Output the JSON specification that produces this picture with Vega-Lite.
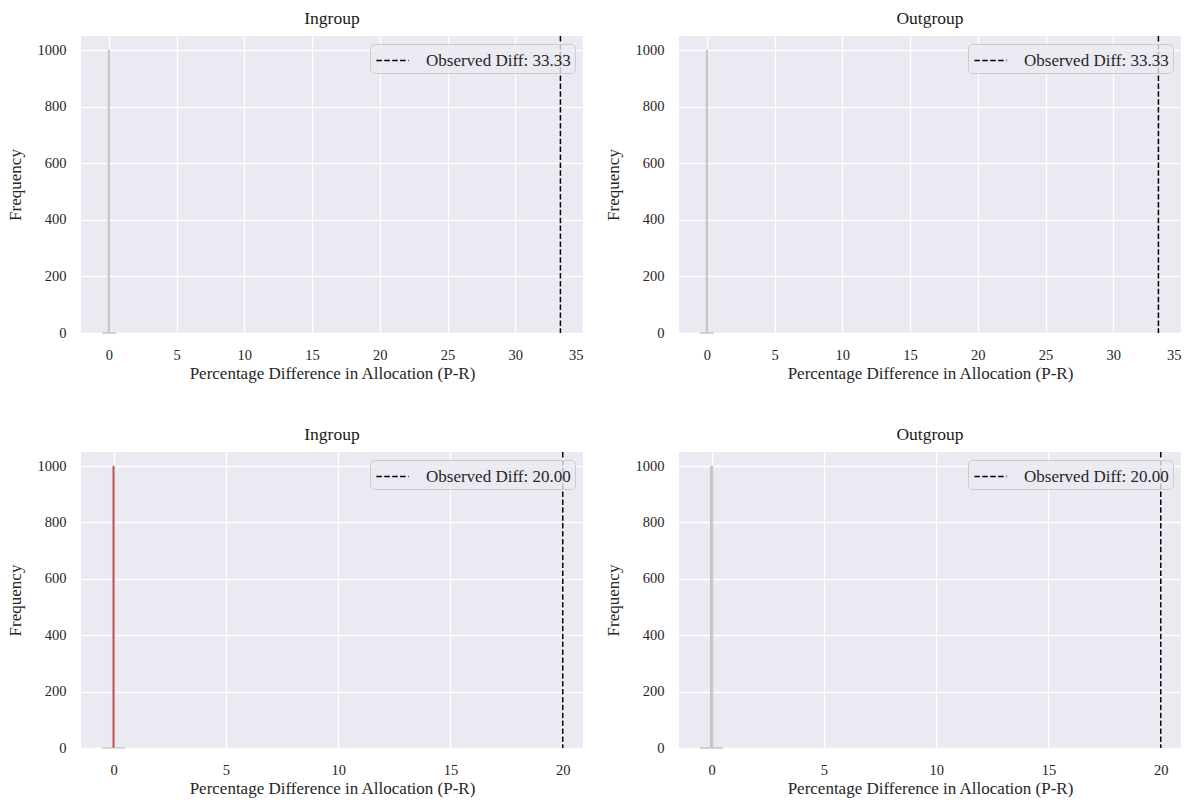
{
  "$schema": "https://vega.github.io/schema/vega-lite/v6.json",
  "background": "white",
  "padding": {"left": 6, "top": 9, "right": 5, "bottom": 5},
  "datasets": {
    "bars": [
      {"panel": "TL", "x0": -0.5, "x1": -0.05, "count": 0},
      {"panel": "TL", "x0": -0.05, "x1": 0.05, "count": 1000},
      {"panel": "TL", "x0": 0.05, "x1": 0.5, "count": 0},
      {"panel": "TR", "x0": -0.5, "x1": -0.05, "count": 0},
      {"panel": "TR", "x0": -0.05, "x1": 0.05, "count": 1000},
      {"panel": "TR", "x0": 0.05, "x1": 0.5, "count": 0},
      {"panel": "BL", "x0": -0.5, "x1": -0.05, "count": 0},
      {"panel": "BL", "x0": -0.05, "x1": 0.05, "count": 1000},
      {"panel": "BL", "x0": 0.05, "x1": 0.5, "count": 0},
      {"panel": "BR", "x0": -0.5, "x1": -0.05, "count": 0},
      {"panel": "BR", "x0": -0.05, "x1": 0.05, "count": 1000},
      {"panel": "BR", "x0": 0.05, "x1": 0.5, "count": 0}
    ],
    "obs": [
      {"panel": "TL", "diff": 33.333, "label": "Observed Diff: 33.33"},
      {"panel": "TR", "diff": 33.333, "label": "Observed Diff: 33.33"},
      {"panel": "BL", "diff": 20.0, "label": "Observed Diff: 20.00"},
      {"panel": "BR", "diff": 20.0, "label": "Observed Diff: 20.00"}
    ]
  },
  "columns": 2,
  "spacing": {"row": 43, "column": 21},
  "resolve": {"scale": {"color": "independent", "x": "independent", "y": "independent"}, "legend": {"color": "independent"}},
  "concat": [
    {
      "title": "Ingroup",
      "width": 502, "height": 297,
      "layer": [
        {
          "data": {"name": "bars"},
          "transform": [{"filter": "datum.panel == 'TL'"}],
          "mark": {"type": "bar", "fill": "#c6c6c6", "stroke": "#c4c4c4", "strokeWidth": 1},
          "encoding": {
            "x": {"field": "x0", "type": "quantitative", "scale": {"domain": [-2.06, 35], "nice": false, "zero": false}, "axis": {"values": [0, 5, 10, 15, 20, 25, 30, 35], "format": "d", "title": "Percentage Difference in Allocation (P-R)"}},
            "x2": {"field": "x1"},
            "y": {"field": "count", "type": "quantitative", "scale": {"domain": [0, 1050], "nice": false}, "axis": {"values": [0, 200, 400, 600, 800, 1000], "format": "d", "title": "Frequency"}},
            "y2": {"datum": 0}
          }
        },
        {
          "data": {"name": "obs"},
          "transform": [{"filter": "datum.panel == 'TL'"}],
          "mark": {"type": "rule", "strokeDash": [5.5, 2.4], "strokeWidth": 1.5},
          "encoding": {
            "x": {"field": "diff", "type": "quantitative"},
            "color": {"field": "label", "type": "nominal", "scale": {"range": ["black"]}, "legend": {"title": null}}
          }
        }
      ]
    },
    {
      "title": "Outgroup",
      "width": 502, "height": 297,
      "layer": [
        {
          "data": {"name": "bars"},
          "transform": [{"filter": "datum.panel == 'TR'"}],
          "mark": {"type": "bar", "fill": "#c6c6c6", "stroke": "#c4c4c4", "strokeWidth": 1},
          "encoding": {
            "x": {"field": "x0", "type": "quantitative", "scale": {"domain": [-2.06, 35], "nice": false, "zero": false}, "axis": {"values": [0, 5, 10, 15, 20, 25, 30, 35], "format": "d", "title": "Percentage Difference in Allocation (P-R)"}},
            "x2": {"field": "x1"},
            "y": {"field": "count", "type": "quantitative", "scale": {"domain": [0, 1050], "nice": false}, "axis": {"values": [0, 200, 400, 600, 800, 1000], "format": "d", "title": "Frequency"}},
            "y2": {"datum": 0}
          }
        },
        {
          "data": {"name": "obs"},
          "transform": [{"filter": "datum.panel == 'TR'"}],
          "mark": {"type": "rule", "strokeDash": [5.5, 2.4], "strokeWidth": 1.5},
          "encoding": {
            "x": {"field": "diff", "type": "quantitative"},
            "color": {"field": "label", "type": "nominal", "scale": {"range": ["black"]}, "legend": {"title": null}}
          }
        }
      ]
    },
    {
      "title": "Ingroup",
      "width": 502, "height": 296,
      "layer": [
        {
          "data": {"name": "bars"},
          "transform": [{"filter": "datum.panel == 'BL'"}],
          "mark": {"type": "bar", "fill": "#c44e52", "stroke": "#c9b0b0", "strokeWidth": 0.6},
          "encoding": {
            "x": {"field": "x0", "type": "quantitative", "scale": {"domain": [-1.45, 20.9], "nice": false, "zero": false}, "axis": {"values": [0, 5, 10, 15, 20], "format": "d", "title": "Percentage Difference in Allocation (P-R)"}},
            "x2": {"field": "x1"},
            "y": {"field": "count", "type": "quantitative", "scale": {"domain": [0, 1050], "nice": false}, "axis": {"values": [0, 200, 400, 600, 800, 1000], "format": "d", "title": "Frequency"}},
            "y2": {"datum": 0}
          }
        },
        {
          "data": {"name": "obs"},
          "transform": [{"filter": "datum.panel == 'BL'"}],
          "mark": {"type": "rule", "strokeDash": [5.5, 2.4], "strokeWidth": 1.5},
          "encoding": {
            "x": {"field": "diff", "type": "quantitative"},
            "color": {"field": "label", "type": "nominal", "scale": {"range": ["black"]}, "legend": {"title": null}}
          }
        }
      ]
    },
    {
      "title": "Outgroup",
      "width": 502, "height": 296,
      "layer": [
        {
          "data": {"name": "bars"},
          "transform": [{"filter": "datum.panel == 'BR'"}],
          "mark": {"type": "bar", "fill": "#c6c6c6", "stroke": "#c4c4c4", "strokeWidth": 1},
          "encoding": {
            "x": {"field": "x0", "type": "quantitative", "scale": {"domain": [-1.45, 20.9], "nice": false, "zero": false}, "axis": {"values": [0, 5, 10, 15, 20], "format": "d", "title": "Percentage Difference in Allocation (P-R)"}},
            "x2": {"field": "x1"},
            "y": {"field": "count", "type": "quantitative", "scale": {"domain": [0, 1050], "nice": false}, "axis": {"values": [0, 200, 400, 600, 800, 1000], "format": "d", "title": "Frequency"}},
            "y2": {"datum": 0}
          }
        },
        {
          "data": {"name": "obs"},
          "transform": [{"filter": "datum.panel == 'BR'"}],
          "mark": {"type": "rule", "strokeDash": [5.5, 2.4], "strokeWidth": 1.5},
          "encoding": {
            "x": {"field": "diff", "type": "quantitative"},
            "color": {"field": "label", "type": "nominal", "scale": {"range": ["black"]}, "legend": {"title": null}}
          }
        }
      ]
    }
  ],
  "config": {
    "font": "Liberation Serif",
    "view": {"fill": "#EAEAF2", "stroke": null},
    "title": {"font": "Liberation Serif", "fontSize": 17.5, "fontWeight": "normal", "color": "#1a1a1a", "offset": 8},
    "axis": {
      "domain": false,
      "ticks": false,
      "tickSize": 0,
      "grid": true,
      "gridColor": "white",
      "gridWidth": 1.3,
      "labelFont": "Liberation Serif",
      "labelFontSize": 14.5,
      "labelColor": "#262626",
      "labelPadding": 15,
      "titleFont": "Liberation Serif",
      "titleFontSize": 17,
      "titleFontWeight": "normal",
      "titleColor": "#262626",
      "titlePadding": 4
    },
    "axisY": {"titlePadding": 13},
    "legend": {
      "orient": "top-right",
      "offset": 8,
      "padding": 4,
      "fillColor": "rgba(234,234,242,0.8)",
      "strokeColor": "#cccccc",
      "cornerRadius": 4,
      "symbolType": "M-1.4,0H1.4",
      "symbolDash": [5.5, 2.4],
      "symbolStrokeWidth": 1.5,
      "symbolSize": 529,
      "symbolOffset": 6,
      "symbolStrokeColor": "black",
      "labelOffset": 21,
      "labelFont": "Liberation Serif",
      "labelFontSize": 17,
      "labelColor": "#262626",
      "labelLimit": 300
    }
  }
}
